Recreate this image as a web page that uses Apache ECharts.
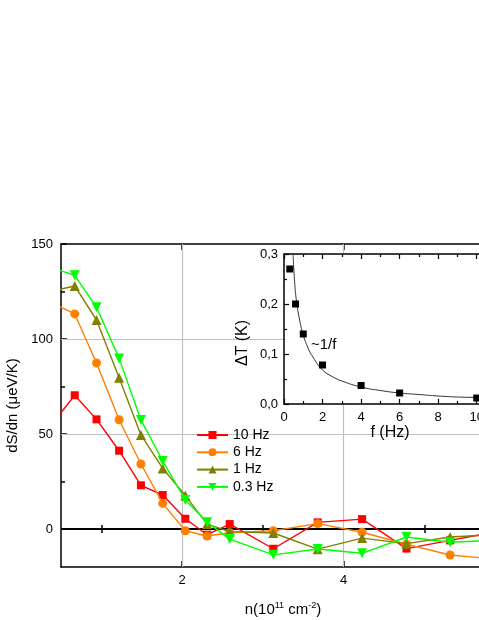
<!DOCTYPE html>
<html>
<head>
<meta charset="utf-8">
<script src="https://cdn.jsdelivr.net/npm/echarts@6/dist/echarts.min.js"></script>
<style>html,body{margin:0;padding:0;background:#fff}#c{width:479px;height:620px}</style>
</head>
<body>
<div id="c"></div>
<script>
// ---- main chart data ----
const nValues = [0.40, 0.67, 0.94, 1.22, 1.49, 1.76, 2.04, 2.31, 2.59, 3.13, 3.68, 4.23, 4.78, 5.32, 5.87];
const s10Hz  = [55.8, 70.4, 57.7, 41.2, 23.0, 17.9, 5.4, -3.0, 2.6, -10.4, 3.5, 5.2, -10.3, -6.0, -1.7];
const s6Hz   = [118.8, 113.2, 87.4, 57.5, 34.2, 13.5, -0.9, -3.7, -2.0, -0.9, 2.8, -1.7, -8.0, -13.7, -15.8];
const s1Hz   = [125.4, 127.9, 110.0, 79.6, 49.5, 31.9, 17.6, 2.6, -1.4, -2.1, -10.6, -4.8, -7.7, -4.2, -3.0];
const s03Hz  = [137.2, 133.5, 116.7, 89.8, 57.4, 35.8, 15.3, 3.5, -5.3, -13.6, -10.5, -12.8, -4.2, -7.0, -6.0];
const seriesNames = ['10 Hz', '6 Hz', '1 Hz', '0.3 Hz'];
const xMajorTicks = [2, 4];
const xMinorTicks = [1, 3, 5];
const yMajorTicks = [0, 50, 100, 150];
const yMinorTicks = [25, 75, 125];
const gridX = [2, 4];
const gridY = [50, 100];

// ---- inset data ----
const fHz = [0.3, 0.6, 1, 2, 4, 6, 10];
const dT  = [0.27, 0.20, 0.14, 0.078, 0.037, 0.022, 0.012];
const fitF = [0.47, 0.55, 0.65, 0.8, 1, 1.25, 1.5, 2, 2.5, 3, 4, 5, 6, 7, 8, 9, 10, 11];
const fitT = [0.300, 0.245, 0.205, 0.170, 0.138, 0.112, 0.094, 0.068, 0.055, 0.046, 0.034, 0.027, 0.022, 0.019, 0.016, 0.014, 0.013, 0.012];

const colors = ['#ff0000', '#ff8000', '#808000', '#00ff00'];
const symbols = ['rect', 'circle', 'triangle', 'triangle'];
const rotates = [0, 0, 0, 180];
const values = [s10Hz, s6Hz, s1Hz, s03Hz];
const FONT = 'Liberation Sans, Arial, sans-serif';

const pair = (xs, ys) => xs.map((x, i) => [x, ys[i]]);

const chart = echarts.init(document.getElementById('c'), null, {renderer: 'canvas'});

const tickAxisBase = (extra) => Object.assign({
  type: 'value', splitLine: {show: false},
  axisLine: {show: false}, axisLabel: {show: false},
  axisTick: {show: false}
}, extra);

const option = {
  animation: false,
  backgroundColor: '#fff',
  textStyle: {fontFamily: FONT},
  grid: [
    {left: 61, top: 244, width: 444, height: 323, containLabel: false, outerBoundsMode: 'none'},
    {left: 284, top: 254, width: 212, height: 150, show: true, backgroundColor: '#fff', borderWidth: 0, z: 3, outerBoundsMode: 'none'}
  ],
  xAxis: [
    // 0 main bottom
    {type: 'value', gridIndex: 0, min: 0.5, max: 6, position: 'bottom',
      axisLine: {show: true, onZero: false, lineStyle: {color: '#000', width: 1.5}},
      axisTick: {show: true, inside: true, length: 6, customValues: xMajorTicks, lineStyle: {color: '#000', width: 1.5}},
      axisLabel: {show: true, customValues: xMajorTicks, color: '#000', fontSize: 13, margin: 7, fontFamily: FONT},
      splitLine: {show: false},
      name: 'n(10{sup|11} cm{sup|-2})', nameLocation: 'middle', nameGap: 34,
      nameTextStyle: {color: '#000', fontSize: 15, fontFamily: FONT, lineHeight: 18,
        rich: {sup: {fontSize: 9, verticalAlign: 'top', lineHeight: 12, color: '#000', fontFamily: FONT}}}},
    // 1 main bottom minor
    tickAxisBase({gridIndex: 0, min: 0.5, max: 6, position: 'bottom',
      axisTick: {show: true, inside: true, length: 4, customValues: xMinorTicks, lineStyle: {color: '#000', width: 1.5}}}),
    // 2 main top
    tickAxisBase({gridIndex: 0, min: 0.5, max: 6, position: 'top',
      axisLine: {show: true, onZero: false, lineStyle: {color: '#000', width: 1.5}},
      axisTick: {show: true, inside: true, length: 6, customValues: xMajorTicks, lineStyle: {color: '#000', width: 1.5}}}),
    // 3 main top minor
    tickAxisBase({gridIndex: 0, min: 0.5, max: 6, position: 'top',
      axisTick: {show: true, inside: true, length: 4, customValues: xMinorTicks, lineStyle: {color: '#000', width: 1.5}}}),
    // 4 inset bottom
    {type: 'value', gridIndex: 1, min: 0, max: 11, interval: 2, position: 'bottom', z: 6,
      axisLine: {show: true, onZero: false, lineStyle: {color: '#000', width: 1.5}},
      axisTick: {show: true, inside: true, length: 5, lineStyle: {color: '#000', width: 1.2}},
      minorTick: {show: true, splitNumber: 2, length: 3, lineStyle: {color: '#000', width: 1.2}},
      axisLabel: {color: '#000', fontSize: 13, margin: 7, fontFamily: FONT,
        formatter: v => (v > 10 ? '' : String(v))},
      splitLine: {show: false}, minorSplitLine: {show: false},
      name: 'f (Hz)', nameLocation: 'middle', nameGap: 18,
      nameTextStyle: {color: '#000', fontSize: 16, fontFamily: FONT}},
    // 5 inset top
    {type: 'value', gridIndex: 1, min: 0, max: 11, interval: 2, position: 'top', z: 6,
      axisLine: {show: true, onZero: false, lineStyle: {color: '#000', width: 1.5}},
      axisTick: {show: true, inside: true, length: 5, lineStyle: {color: '#000', width: 1.2}},
      minorTick: {show: true, splitNumber: 2, length: 3, lineStyle: {color: '#000', width: 1.2}},
      axisLabel: {show: false}, splitLine: {show: false}}
  ],
  yAxis: [
    // 0 main left
    {type: 'value', gridIndex: 0, min: -20, max: 150, position: 'left',
      axisLine: {show: true, onZero: false, lineStyle: {color: '#000', width: 1.5}},
      axisTick: {show: true, inside: true, length: 6, customValues: yMajorTicks, lineStyle: {color: '#000', width: 1.5}},
      axisLabel: {show: true, customValues: yMajorTicks, color: '#000', fontSize: 13, margin: 8, fontFamily: FONT},
      splitLine: {show: false},
      name: 'dS/dn (\u03bceV/K)', nameLocation: 'middle', nameGap: 37,
      nameTextStyle: {color: '#000', fontSize: 15, fontFamily: FONT}},
    // 1 main left minor
    tickAxisBase({gridIndex: 0, min: -20, max: 150, position: 'left',
      axisTick: {show: true, inside: true, length: 4, customValues: yMinorTicks, lineStyle: {color: '#000', width: 1.5}}}),
    // 2 inset left
    {type: 'value', gridIndex: 1, min: 0, max: 0.3, interval: 0.1, position: 'left', z: 6,
      axisLine: {show: true, onZero: false, lineStyle: {color: '#000', width: 1.5}},
      axisTick: {show: true, inside: true, length: 5, lineStyle: {color: '#000', width: 1.2}},
      minorTick: {show: true, splitNumber: 2, length: 3, lineStyle: {color: '#000', width: 1.2}},
      axisLabel: {color: '#000', fontSize: 13, margin: 6, fontFamily: FONT,
        formatter: v => v.toFixed(1).replace('.', ',')},
      splitLine: {show: false}, minorSplitLine: {show: false},
      name: '\u0394T (K)', nameLocation: 'middle', nameGap: 33,
      nameTextStyle: {color: '#000', fontSize: 16, fontFamily: FONT, padding: [0, 28, 0, 0]}}
  ],
  legend: {
    orient: 'vertical', left: 196, top: 428, padding: 0, z: 10,
    data: seriesNames,
    itemWidth: 31, itemHeight: 10, itemGap: 3.3,
    textStyle: {color: '#000', fontSize: 14, lineHeight: 14, fontFamily: FONT}
  },
  graphic: [
    {type: 'text', left: 311, top: 337, z: 20,
      style: {text: '~1/f', font: '15px Liberation Sans, Arial, sans-serif', fill: '#000'}}
  ],
  series: [
    {type: 'line', xAxisIndex: 0, yAxisIndex: 0, data: [], z: 1, silent: true,
      markLine: {silent: true, symbol: 'none', animation: false, z: 1,
        label: {show: false},
        lineStyle: {color: '#c0c0c0', width: 1.2, type: 'solid'},
        data: gridX.map(v => ({xAxis: v})).concat(gridY.map(v => ({yAxis: v})))
          .concat([{yAxis: 0, lineStyle: {color: '#000', width: 2, type: 'solid'}}])}},
    ...seriesNames.map((name, i) => ({
      name, type: 'line', xAxisIndex: 0, yAxisIndex: 0, z: 2 + i * 0.1,
      data: pair(nValues, values[i]),
      clip: true,
      symbol: symbols[i], symbolRotate: rotates[i],
      symbolSize: symbols[i] === 'rect' ? 8 : (symbols[i] === 'circle' ? 9 : 10),
      showAllSymbol: true,
      color: colors[i],
      itemStyle: {color: colors[i]},
      lineStyle: {color: colors[i], width: 1.4}
    })),
    {type: 'line', xAxisIndex: 4, yAxisIndex: 2, z: 7, data: pair(fitF, fitT),
      smooth: true, showSymbol: false, symbol: 'none', clip: true,
      lineStyle: {color: '#333', width: 1}},
    {type: 'scatter', xAxisIndex: 4, yAxisIndex: 2, z: 8, data: pair(fHz, dT),
      symbol: 'rect', symbolSize: 7, itemStyle: {color: '#000', opacity: 1}}
  ]
};
chart.setOption(option);
</script>
</body>
</html>
